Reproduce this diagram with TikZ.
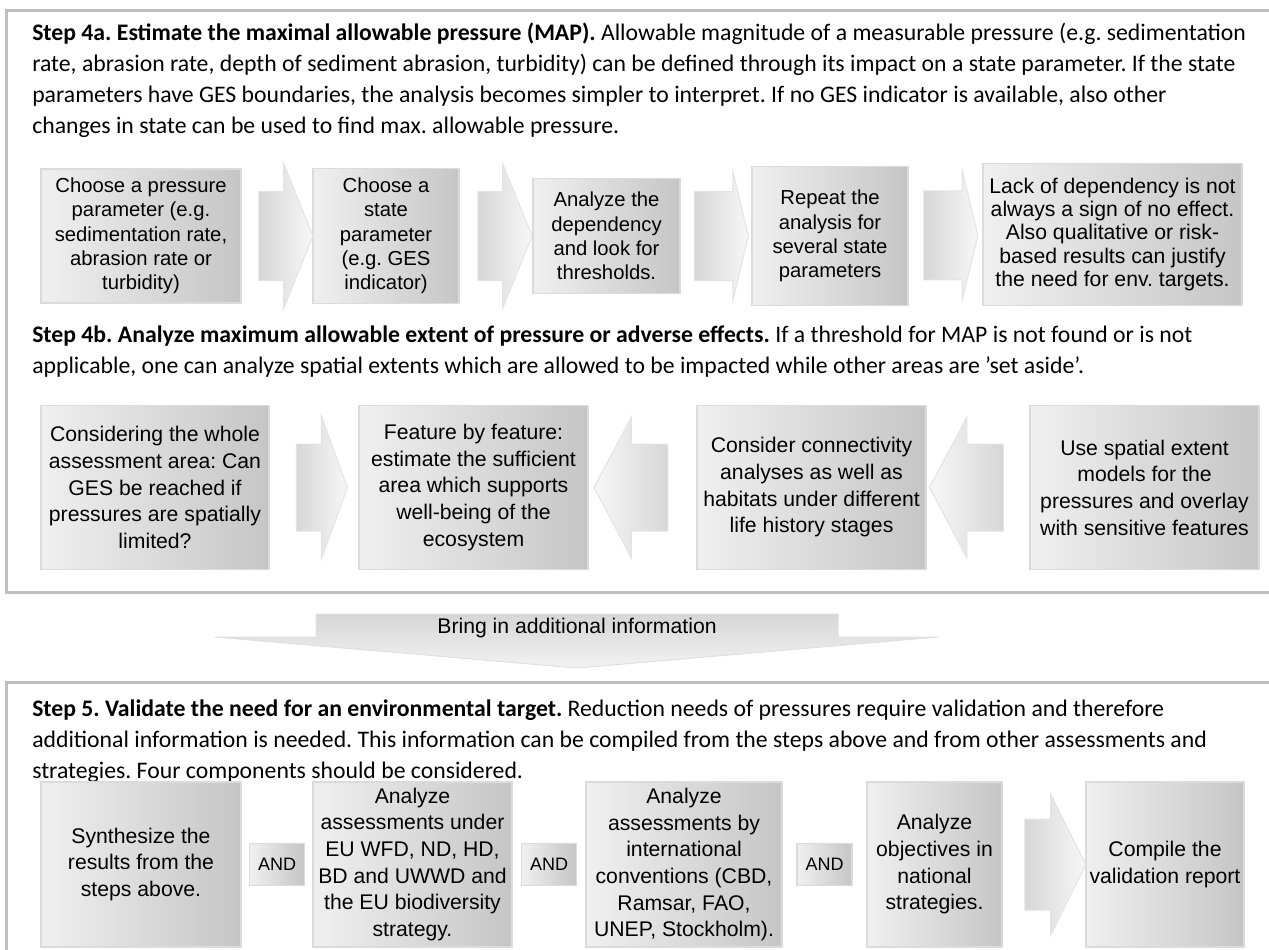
\documentclass[tikz,border=0pt]{standalone}
\usepackage{fontspec}
\setmainfont{Carlito}
\newfontfamily\boxfont{Liberation Sans}
\usetikzlibrary{shapes.arrows, calc}

\begin{document}
\frenchspacing
\begin{tikzpicture}[x=0.75pt, y=-0.75pt,
    frame/.style={draw=gray!50, line width=2.25pt},
    para/.style={anchor=north west, inner sep=0pt, align=left,
                 font=\fontsize{17.8}{23.25}\selectfont},
    procbox/.style={draw=gray!28, line width=1.1pt, left color=gray!12, right color=gray!45,
                    align=center, inner sep=0pt, font=\boxfont\fontsize{15.9}{20}\selectfont},
    smallbox/.style={procbox, font=\boxfont\fontsize{15.2}{18.2}\selectfont},
    andbox/.style={procbox, minimum width=41.25pt, minimum height=31.5pt,
                   font=\boxfont\fontsize{13.5}{16}\selectfont},
    blockarrow/.style={shape=single arrow, draw=gray!22, line width=0.75pt,
                       inner xsep=0pt, minimum width=0pt},
    rarrow/.style={blockarrow, left color=gray!32, right color=gray!6},
    larrow/.style={blockarrow, shape border rotate=180, left color=gray!6, right color=gray!32}
]
\useasboundingbox (0,0) rectangle (1269,949);
\clip (0,0) rectangle (1269,949);
%% Frames
\draw[frame] (1280,11) -- (6,11) -- (6,592) -- (1280,592);
\draw[frame] (1280,682) -- (6,682) -- (6,960);
%% Step 4a: text
\node[para] (t4a) at (32,23) {%
    \textbf{Step 4a. Estimate the maximal allowable pressure (MAP).} Allowable magnitude of a measurable pressure (e.g. sedimentation\\
    rate, abrasion rate, depth of sediment abrasion, turbidity) can be defined through its impact on a state parameter. If the state\\
    parameters have GES boundaries, the analysis becomes simpler to interpret. If no GES indicator is available, also other\\
    changes in state can be used to find max. allowable pressure.};
%% Step 4a: boxes
\node[smallbox, minimum width=150pt, minimum height=100.5pt] (a1) at (141,236)
    {Choose a pressure\\parameter (e.g.\\sedimentation rate,\\abrasion rate or\\turbidity)};
\node[smallbox, minimum width=109.5pt, minimum height=101.25pt] (a2) at (386,236)
    {Choose a\\state\\parameter\\(e.g. GES\\indicator)};
\node[smallbox, minimum width=110.25pt, minimum height=86.25pt] (a3) at (606.5,236)
    {Analyze the\\dependency\\and look for\\thresholds.};
\node[smallbox, minimum width=117pt, minimum height=104.25pt] (a4) at (830,236)
    {Repeat the\\analysis for\\several state\\parameters};
\node[procbox, minimum width=194.25pt, minimum height=106.5pt,
      font=\boxfont\fontsize{15.9}{17.5}\selectfont] (a5) at (1112.5,234.5)
    {Lack of dependency is not\\always a sign of no effect.\\Also qualitative or risk-\\based results can justify\\the need for env. targets.};
%% Step 4a: arrows
\foreach \i/\j in {a1/a2, a2/a3}
    \node[rarrow, minimum height=40.5pt, inner ysep=33pt, single arrow head extend=21pt,
          single arrow tip angle=136] (\i\j) at ($(\i.east)!.5!(\j.west)$) {};
\foreach \i/\j in {a3/a4, a4/a5}
    \node[rarrow, minimum height=40.5pt, inner ysep=33pt, single arrow head extend=15pt,
          single arrow tip angle=153] (\i\j) at ($(\i.east)!.5!(\j.west)$) {};
%% Step 4b: text
\node[para] (t4b) at (32,326) {%
    \textbf{Step 4b. Analyze maximum allowable extent of pressure or adverse effects.} If a threshold for MAP is not found or is not\\
    applicable, one can analyze spatial extents which are allowed to be impacted while other areas are ’set aside’.};
%% Step 4b: boxes
\node[procbox, minimum width=171pt, minimum height=123pt] (b1) at (155,487.5)
    {Considering the whole\\assessment area: Can\\GES be reached if\\pressures are spatially\\limited?};
\node[procbox, minimum width=171.75pt, minimum height=123pt] (b2) at (473.5,487.5)
    {Feature by feature:\\estimate the sufficient\\area which supports\\well-being of the\\ecosystem};
\node[procbox, minimum width=171.75pt, minimum height=123pt] (b3) at (811.5,487.5)
    {Consider connectivity\\analyses as well as\\habitats under different\\life history stages};
\node[procbox, minimum width=171.75pt, minimum height=123pt] (b4) at (1144.5,487.5)
    {Use spatial extent\\models for the\\pressures and overlay\\with sensitive features};
%% Step 4b: arrows
\node[rarrow, minimum height=38.25pt, inner ysep=32.25pt, single arrow head extend=21pt,
      single arrow tip angle=140] (b1b2) at ($(b1.east)!.5!(b2.west)$) {};
\foreach \i/\j in {b2/b3, b3/b4}
    \node[larrow, minimum height=55.5pt, inner ysep=32.25pt, single arrow head extend=20.25pt,
          single arrow tip angle=124] (\j\i) at ($(\i.east)!.5!(\j.west)$) {};
%% Bring in additional information
\path[draw=gray!25, line width=0.75pt, top color=gray!32, bottom color=gray!10]
    (316,614) -- (838,614) -- (838,637) -- (938,637) -- (577,668) -- (215,637) -- (316,637) -- cycle;
\node[font=\boxfont\fontsize{15.9}{20}\selectfont, inner sep=0pt] (bring) at (577,628) {Bring in additional information};
%% Step 5: text
\node[para] (t5) at (32,700) {%
    \textbf{Step 5. Validate the need for an environmental target.} Reduction needs of pressures require validation and therefore\\
    additional information is needed. This information can be compiled from the steps above and from other assessments and\\
    strategies. Four components should be considered.};
%% Step 5: boxes
\node[procbox, minimum width=150pt, minimum height=123.75pt] (c1) at (141,864.5)
    {Synthesize the\\results from the\\steps above.};
\node[procbox, minimum width=149.25pt, minimum height=123.75pt] (c2) at (412.5,864.5)
    {Analyze\\assessments under\\EU WFD, ND, HD,\\BD and UWWD and\\the EU biodiversity\\strategy.};
\node[procbox, minimum width=147pt, minimum height=123.75pt] (c3) at (684,864.5)
    {Analyze\\assessments by\\international\\conventions (CBD,\\Ramsar, FAO,\\UNEP, Stockholm).};
\node[procbox, minimum width=101.25pt, minimum height=123.75pt] (c4) at (934.5,864.5)
    {Analyze\\objectives in\\national\\strategies.};
\node[procbox, minimum width=118.5pt, minimum height=123.75pt] (c5) at (1165,864.5)
    {Compile the\\validation report};
%% Step 5: AND links and arrow
\foreach \i/\j/\n in {c1/c2/1, c2/c3/2, c3/c4/3}
    \node[andbox] (and\n) at ($(\i.east)!.5!(\j.west)$) {AND};
\node[rarrow, minimum height=45.75pt, inner ysep=33.75pt, single arrow head extend=18.75pt,
      single arrow tip angle=127] (c4c5) at ($(c4.east)!.5!(c5.west)$) {};
\end{tikzpicture}
\end{document}
